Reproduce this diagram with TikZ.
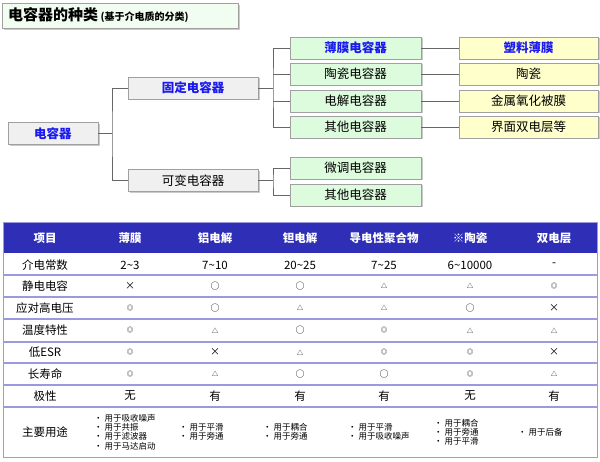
\documentclass[tikz,border=0pt]{standalone}
\usepackage{fontspec}
\setmainfont{Noto Sans CJK SC}
\usetikzlibrary{shadows}
\definecolor{gfill}{HTML}{DDFBDD}
\definecolor{yfill}{HTML}{FFFFCC}
\definecolor{bfill}{HTML}{F0F0F0}
\definecolor{bline}{HTML}{A0A0A0}
\definecolor{hdr}{HTML}{2E2EB6}
\definecolor{rule}{HTML}{9A9ADE}
\definecolor{tblue}{HTML}{1A1AF0}
\tikzset{
 box/.style={draw=bline,line width=0.6pt,minimum height=22pt,inner sep=0pt,
   drop shadow={shadow xshift=1.5pt,shadow yshift=-1.5pt,fill=black!35,opacity=0.6},font=\fontsize{12.5}{13}\selectfont},
 gbox/.style={box,fill=gfill,minimum width=131pt},
 ybox/.style={box,fill=yfill,minimum width=139pt},
 wbox/.style={box,fill=bfill},
 hi/.style={text=tblue,font=\fontsize{12.5}{13}\selectfont\bfseries},
 conn/.style={draw=gray!80!black,line width=0.6pt},
 cell/.style={font=\fontsize{11.5}{12}\selectfont,inner sep=0pt},
 hcell/.style={font=\fontsize{11.5}{12}\selectfont\bfseries,text=white,inner sep=0pt},
 sym/.style={font=\fontsize{7}{8}\selectfont,inner sep=0pt},
 use/.style={font=\fontsize{8.5}{9.2}\selectfont,inner sep=0pt,align=left,anchor=west},
}
\begin{document}
\begin{tikzpicture}[x=1pt,y=-1pt]
\useasboundingbox (0,0) rectangle (600,462);
% title
\node[box,fill=gfill!40,minimum width=236pt,minimum height=25pt,anchor=north west] (title) at (2,3) {};
\node[anchor=west,inner sep=0pt] (tt) at (8,15.5) {\fontsize{15}{16}\selectfont\bfseries 电容器的种类\,\fontsize{10}{10}\selectfont (基于介电质的分类)};
% tree
\node[wbox,minimum width=90pt,hi] (root) at (53,133.5) {电容器};
\node[wbox,minimum width=130pt,hi] (fix) at (193,88) {固定电容器};
\node[wbox,minimum width=130pt] (var) at (193,180.5) {可变电容器};
\node[gbox,hi] (g1) at (355.5,48) {薄膜电容器};
\node[gbox] (g2) at (355.5,74) {陶瓷电容器};
\node[gbox] (g3) at (355.5,101) {电解电容器};
\node[gbox] (g4) at (355.5,127) {其他电容器};
\node[gbox] (g5) at (355.5,168) {微调电容器};
\node[gbox] (g6) at (355.5,195) {其他电容器};
\node[ybox,hi] (y1) at (528.5,48) {塑料薄膜};
\node[ybox] (y2) at (528.5,74) {陶瓷};
\node[ybox] (y3) at (528.5,101) {金属氧化被膜};
\node[ybox] (y4) at (528.5,127) {界面双电层等};
\coordinate (j0) at (112,133.5);
\coordinate (j1) at (273,88);
\coordinate (j2) at (273,180.5);
\draw[conn] (root.east) -- (j0) (fix.west) -| (j0) |- (var.west);
\draw[conn] (fix.east) -- (j1);
\draw[conn] (g1.west) -| (j1) |- (g4.west);
\draw[conn] (j1|-g2) -- (g2.west) (j1|-g3) -- (g3.west);
\draw[conn] (var.east) -- (j2);
\draw[conn] (g5.west) -| (j2) |- (g6.west);
\foreach \i in {1,...,4}{\draw[conn] (g\i.east) -- (y\i.west);}
% table
\fill[hdr] (3,223) rectangle (597,253);
\foreach \y in {275,297,319,342,363,385,407}{\draw[rule,line width=1.2pt] (3,\y) -- (597,\y);}
\draw[rule,line width=1pt] (3,223) rectangle (597,457);
\node[hcell] (h0) at (45,238) {项目};
\node[hcell] (h1) at (130,238) {薄膜};
\node[hcell] (h2) at (215,238) {铝电解};
\node[hcell] (h3) at (300,238) {钽电解};
\node[hcell] (h4) at (384,238) {导电性聚合物};
\node[hcell] (h5) at (470,238) {※陶瓷};
\node[hcell] (h6) at (554,238) {双电层};
\node[cell] (r1) at (45,265) {介电常数};
\node[cell] at (130,265) {2\textasciitilde3};
\node[cell] at (215,265) {7\textasciitilde10};
\node[cell] at (300,265) {20\textasciitilde25};
\node[cell] at (384,265) {7\textasciitilde25};
\node[cell] at (470,265) {6\textasciitilde10000};
\node[cell] at (554,265) {-};
\def\rowsym#1#2#3#4#5#6#7#8{%
 \node[cell] at (45,#1) {#2};
 \node[sym] at (130,#1) {#3}; \node[sym] at (215,#1) {#4};
 \node[sym] at (300,#1) {#5}; \node[sym] at (384,#1) {#6};
 \node[sym] at (470,#1) {#7}; \node[sym] at (554,#1) {#8};}
\def\X{{\fontsize{10}{10}\selectfont ×}}
\def\O{{\fontsize{9}{9}\selectfont ○}}
\def\T{{\fontsize{6.5}{6.5}\selectfont △}}
\def\D{{\fontsize{6.5}{6.5}\selectfont ◎}}
\rowsym{286}{静电电容}{\X}{\O}{\O}{\T}{\T}{\D}
\rowsym{308}{应对高电压}{\D}{\O}{\T}{\T}{\O}{\X}
\rowsym{330.5}{温度特性}{\D}{\T}{\O}{\D}{\T}{\T}
\rowsym{352.5}{低ESR}{\D}{\X}{\T}{\D}{\D}{\X}
\rowsym{374}{长寿命}{\D}{\T}{\O}{\O}{\D}{\T}
\node[cell] at (45,396) {极性};
\node[cell] at (130,396) {无};
\node[cell] at (215,396) {有};
\node[cell] at (300,396) {有};
\node[cell] at (384,396) {有};
\node[cell] at (470,396) {无};
\node[cell] at (554,396) {有};
\node[cell] at (45,432) {主要用途};
\node[use] at (94,432) {· 用于吸收噪声\\· 用于共振\\· 用于滤波器\\· 用于马达启动};
\node[use] at (179,432) {· 用于平滑\\· 用于旁通};
\node[use] at (263,432) {· 用于耦合\\· 用于旁通};
\node[use] at (348,432) {· 用于平滑\\· 用于吸收噪声};
\node[use] at (434,432) {· 用于耦合\\· 用于旁通\\· 用于平滑};
\node[use] at (518,432) {· 用于后备};
\end{tikzpicture}
\end{document}
